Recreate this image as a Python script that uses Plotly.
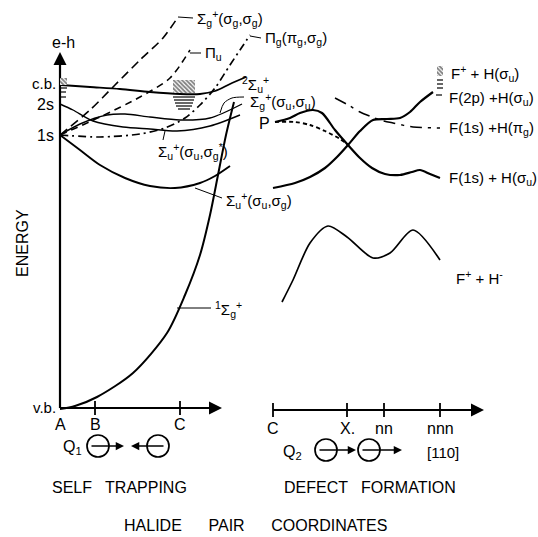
import plotly.graph_objects as go

# ---------------- data (diagram coordinates, y grows downward) ----------------
# axes
energy_axis_x = [60, 60];   energy_axis_y = [408, 58]
q1_axis_x = [60, 216];      q1_axis_y = [408, 408]
q2_axis_x = [273, 478];     q2_axis_y = [410, 410]
q1_tick_labels = ["A", "B", "C"];            q1_tick_pos = [60, 95, 180]
q2_tick_labels = ["C", "X.", "nn", "nnn"];  q2_tick_pos = [273, 347, 384, 440]

# left panel curves (self trapping)
cb_x = [61, 90, 120, 150, 180, 200, 215, 230, 246]
cb_y = [85, 87, 89, 92, 94, 94, 91, 84, 77]
hump_x = [60, 80, 107, 125, 150, 180, 210, 242]
hump_y = [135, 124, 115, 114, 117, 120, 118, 104]
s2_x = [60, 73, 93, 123, 150, 177, 210, 240]
s2_y = [104, 110, 121, 127, 129, 131, 126, 115]
pig_x = [60, 100, 140, 165, 185, 200, 215, 230, 242, 250]
pig_y = [135, 137, 134, 128, 118, 105, 88, 65, 47, 35]
piu_x = [60, 100, 140, 170, 190]
piu_y = [135, 117, 97, 78, 50]
sgg_x = [60, 90, 115, 140, 163, 178]
sgg_y = [135, 110, 85, 60, 38, 17]
suo_x = [60, 80, 100, 125, 150, 175, 200, 215, 230]
suo_y = [135, 150, 165, 178, 186, 188, 183, 176, 166]
sg1_x = [60, 75, 97, 133, 167, 185, 200, 210, 218, 226, 234]
sg1_y = [409, 406, 397, 373, 333, 295, 255, 215, 175, 135, 102]

# right panel curves (defect formation)
f1su_x = [275, 290, 300, 313, 322, 335, 348, 360, 372, 385, 400, 412, 420, 430, 440]
f1su_y = [122, 118, 113, 110, 113, 130, 145, 158, 168, 174, 175, 172, 170, 174, 178]
pdash_x = [275, 295, 310, 325, 340, 348]
pdash_y = [122, 122, 125, 131, 139, 145]
f2p_x = [273, 295, 310, 325, 337, 348, 360, 373, 387, 400, 410, 420, 433]
f2p_y = [188, 183, 177, 168, 157, 145, 131, 120, 119, 118, 112, 102, 92]
fpi_x = [335, 350, 360, 372, 380, 393, 413, 440]
fpi_y = [98, 106, 112, 117, 120, 123, 127, 128]
fhm_x = [282, 293, 310, 328, 347, 373, 390, 413, 440]
fhm_y = [302, 280, 243, 226, 237, 258, 253, 230, 260]

# hatched band markers: (x0, x1, y0, y1) and level lines (x0, x1, y)
hatch_boxes = [(60, 67, 78, 85), (173, 195, 80, 93), (437, 443, 66, 76)]
level_lines = [(60, 67, 88), (60, 66, 92), (60, 66, 97),
               (173, 195, 97), (174, 194, 100), (175, 193, 103), (176, 192, 106), (178, 190, 109),
               (437, 443, 80), (437, 443, 84), (437, 443, 88), (436, 442, 95)]

# text labels: (text, x, y, anchor, size)
FONT = "Liberation Sans"
labels = [
    ("e-h", 63, 42, "center", 16), ("c.b.", 58, 83, "right", 15), ("2s", 56, 104, "right", 16),
    ("1s", 56, 135, "right", 16), ("v.b.", 58, 407, "right", 15),
    ("Σ<sub>g</sub><sup>+</sup>(σ<sub>g</sub>,σ<sub>g</sub>)", 195, 18, "left", 15),
    ("Π<sub>u</sub>", 203, 53, "left", 15),
    ("Π<sub>g</sub>(π<sub>g</sub>,σ<sub>g</sub>)", 263, 38, "left", 15),
    ("<sup>2</sup>Σ<sub>u</sub><sup>+</sup>", 240, 84, "left", 15),
    ("Σ<sub>g</sub><sup>+</sup>(σ<sub>u</sub>,σ<sub>u</sub>)", 248, 101, "left", 15),
    ("P", 264, 123, "center", 16),
    ("Σ<sub>u</sub><sup>+</sup>(σ<sub>u</sub>,σ<sub>g</sub><sup>*</sup>)", 156, 151, "left", 15),
    ("Σ<sub>u</sub><sup>+</sup>(σ<sub>u</sub>,σ<sub>g</sub>)", 224, 200, "left", 15),
    ("<sup>1</sup>Σ<sub>g</sub><sup>+</sup>", 213, 309, "left", 15),
    ("F<sup>+</sup> + H(σ<sub>u</sub>)", 449, 73, "left", 15),
    ("F(2p) +H(σ<sub>u</sub>)", 447, 98, "left", 15),
    ("F(1s) +H(π<sub>g</sub>)", 447, 128, "left", 15),
    ("F(1s) + H(σ<sub>u</sub>)", 447, 178, "left", 15),
    ("F<sup>+</sup> + H<sup>-</sup>", 454, 277, "left", 15),
    ("Q<sub>1</sub>", 72, 447, "center", 16),
    ("Q<sub>2</sub>", 292, 452, "center", 16),
    ("[110]", 443, 452, "center", 15),
    ("SELF   TRAPPING", 119, 487, "center", 16),
    ("DEFECT   FORMATION", 370, 487, "center", 16),
    ("HALIDE      PAIR      COORDINATES", 255, 525, "center", 16),
]
# leader lines: (x list, y list)
leaders = [([178, 193], [17, 18]), ([190, 201], [53, 53]), ([250, 261], [36, 38]),
           ([220, 224, 232, 244], [113, 103, 98, 97]), ([163, 165], [140, 131]),
           ([195, 222], [188, 198]), ([177, 211], [308, 308])]
# motion circles: (cx, cy, r) and arrows (tail x, head x, y)
circles = [(98, 446, 11), (158, 446, 11), (326, 450, 11), (369, 450, 11)]
motion_arrows = [(90, 124, 446), (165, 131, 446), (318, 356, 450), (361, 402, 450)]

# ---------------- figure ----------------
fig = go.Figure()

def line(x, y, w=1.6, dash="solid"):
    fig.add_trace(go.Scatter(x=x, y=y, mode="lines", line=dict(color="black", width=w, dash=dash, shape="spline", smoothing=0.8),
                             hoverinfo="skip", showlegend=False))

# axes
line(energy_axis_x, energy_axis_y, 2.2)
line(q1_axis_x, q1_axis_y, 2.2)
line(q2_axis_x, q2_axis_y, 2.2)
for px in q1_tick_pos[1:]:
    line([px, px], [q1_axis_y[0] - 7, q1_axis_y[0] + 7], 1.8)
for px in q2_tick_pos:
    line([px, px], [q2_axis_y[0] - 7, q2_axis_y[0] + 7], 1.8)

# curves
line(cb_x, cb_y, 1.8)
line(hump_x, hump_y, 1.4)
line(s2_x, s2_y, 1.4)
line(pig_x, pig_y, 1.7, "8px,4px,2px,4px")
line(piu_x, piu_y, 1.6, "7px,5px")
line(sgg_x, sgg_y, 1.6, "9px,5px")
line(suo_x, suo_y, 1.9)
line(sg1_x, sg1_y, 2.0)
line(f1su_x, f1su_y, 2.2)
line(pdash_x, pdash_y, 1.9, "4px,3px")
line(f2p_x, f2p_y, 2.2)
line(fpi_x, fpi_y, 1.5, "12px,6px,3px,6px")
line(fhm_x, fhm_y, 1.7)

for lx, ly in leaders:
    line(lx, ly, 1.0)

# hatched boxes
for x0, x1, y0, y1 in hatch_boxes:
    fig.add_trace(go.Scatter(x=[x0, x1, x1, x0, x0], y=[y0, y0, y1, y1, y0], mode="lines", fill="toself",
                             line=dict(width=0, color="black"), fillcolor="white",
                             fillpattern=dict(shape="\\", fgcolor="black", bgcolor="white", size=3, solidity=0.6),
                             hoverinfo="skip", showlegend=False))
lx, ly = [], []
for x0, x1, yy in level_lines:
    lx += [x0, x1, None]; ly += [yy, yy, None]
fig.add_trace(go.Scatter(x=lx, y=ly, mode="lines", line=dict(color="black", width=1.2), hoverinfo="skip", showlegend=False))

# circles
for cx, cy, r in circles:
    fig.add_shape(type="circle", x0=cx - r, x1=cx + r, y0=cy - r, y1=cy + r, line=dict(color="black", width=1.7))

ann = []
# axis arrowheads
ann.append(dict(x=energy_axis_x[1], y=energy_axis_y[1] - 6, ax=energy_axis_x[1], ay=energy_axis_y[1] + 4))
ann.append(dict(x=q1_axis_x[1] + 6, y=q1_axis_y[1], ax=q1_axis_x[1] - 4, ay=q1_axis_y[1]))
ann.append(dict(x=q2_axis_x[1] + 6, y=q2_axis_y[1], ax=q2_axis_x[1] - 4, ay=q2_axis_y[1]))
annotations = []
for a in ann:
    annotations.append(dict(xref="x", yref="y", axref="x", ayref="y", showarrow=True, arrowhead=2,
                            arrowsize=1.3, arrowwidth=2, arrowcolor="black", text="", **a))
for tx, hx, yy in motion_arrows:
    annotations.append(dict(xref="x", yref="y", axref="x", ayref="y", x=hx, y=yy, ax=tx, ay=yy, showarrow=True,
                            arrowhead=2, arrowsize=1.1, arrowwidth=1.5, arrowcolor="black", text=""))
for t, x, y, anc, sz in labels:
    annotations.append(dict(xref="x", yref="y", x=x, y=y, text=t, showarrow=False, xanchor=anc, yanchor="middle",
                            font=dict(family=FONT, size=sz, color="black")))
for t, x, y in [(q1_tick_labels[i], q1_tick_pos[i], 424) for i in range(3)] + \
               [(q2_tick_labels[i], q2_tick_pos[i], 428) for i in range(4)]:
    annotations.append(dict(xref="x", yref="y", x=x, y=y, text=t, showarrow=False, yanchor="middle",
                            font=dict(family=FONT, size=16, color="black")))
annotations.append(dict(xref="x", yref="y", x=22, y=243, text="ENERGY", textangle=-90, showarrow=False,
                        font=dict(family=FONT, size=16, color="black")))

fig.update_layout(width=538, height=537, margin=dict(l=0, r=0, t=0, b=0),
                  plot_bgcolor="white", paper_bgcolor="white", annotations=annotations,
                  xaxis=dict(range=[0, 538], visible=False, fixedrange=True),
                  yaxis=dict(range=[537, 0], visible=False, fixedrange=True))
fig.write_html("out.html")
